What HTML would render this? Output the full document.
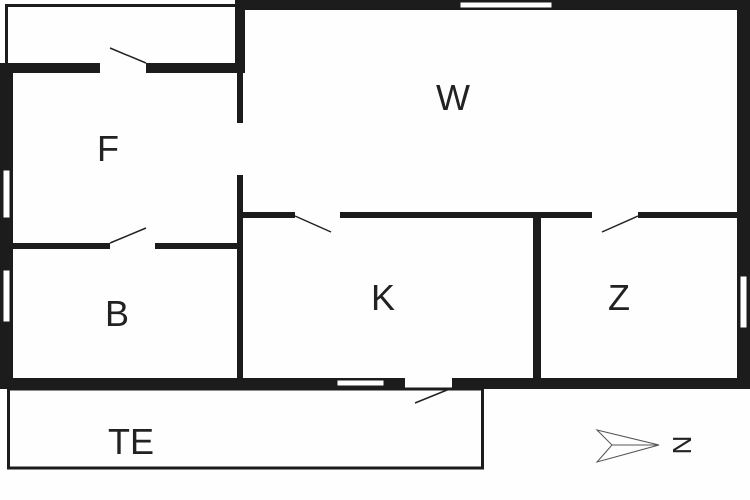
<!DOCTYPE html>
<html><head><style>
html,body{margin:0;padding:0;background:#fff;}
svg{display:block;}
text{font-family:"Liberation Sans",sans-serif;fill:#222;}
</style></head><body>
<svg width="750" height="500" viewBox="0 0 750 500" xmlns="http://www.w3.org/2000/svg">
<rect width="750" height="500" fill="#fefefe"/>
<g fill="#1c1c1c">
<!-- top annex thin -->
<rect x="5" y="4" width="232" height="3"/>
<rect x="5" y="4" width="3" height="62"/>
<!-- W top wall -->
<rect x="235" y="0" width="515" height="10"/>
<!-- right wall -->
<rect x="737" y="0" width="13" height="389"/>
<!-- bottom main wall -->
<rect x="0" y="378" width="750" height="11"/>
<!-- left wall -->
<rect x="0" y="63" width="13" height="326"/>
<!-- wall y63 -->
<rect x="0" y="63" width="245" height="10"/>
<!-- vertical 235 -->
<rect x="235" y="0" width="10" height="73"/>
<rect x="237" y="73" width="6" height="307"/>
<!-- W/K wall -->
<rect x="243" y="212" width="494" height="6"/>
<!-- K/Z vertical -->
<rect x="533" y="215" width="8" height="165"/>
<!-- F/B wall -->
<rect x="13" y="243" width="224" height="6"/>
</g>
<g fill="#fefefe">
<rect x="100" y="62" width="46" height="12"/>
<rect x="236" y="123" width="8" height="52"/>
<rect x="295" y="211" width="45" height="8"/>
<rect x="592" y="211" width="46" height="8"/>
<rect x="110" y="242" width="45" height="8"/>
<rect x="405" y="377" width="47" height="13"/>
</g>
<!-- windows -->
<g fill="#fff" stroke="#1c1c1c" stroke-width="1">
<rect x="460" y="2" width="92" height="6"/>
<rect x="3" y="170" width="7" height="48"/>
<rect x="3" y="270" width="7" height="52"/>
<rect x="740" y="276" width="7" height="52"/>
<rect x="337" y="380" width="47" height="6"/>
</g>
<!-- TE box -->
<rect x="8.5" y="389" width="474" height="79" fill="none" stroke="#1c1c1c" stroke-width="3"/>
<!-- door leaves -->
<g stroke="#222" stroke-width="1.5">
<line x1="110" y1="48" x2="146" y2="63"/>
<line x1="110" y1="243" x2="146" y2="228"/>
<line x1="295" y1="216" x2="331" y2="232"/>
<line x1="602" y1="232" x2="638" y2="216"/>
<line x1="415" y1="403" x2="452" y2="388"/>
</g>
<g font-size="36" text-anchor="middle">
<text x="453" y="110">W</text>
<text x="108" y="161">F</text>
<text x="117" y="326">B</text>
<text x="383" y="310">K</text>
<text x="619" y="310">Z</text>
<text x="131" y="454">TE</text>
</g>
<polygon points="597,430 659,445 597,462 612,445" fill="none" stroke="#555" stroke-width="1"/>
<line x1="612" y1="445" x2="659" y2="445" stroke="#555" stroke-width="1"/>
<text x="682" y="445" font-size="26" text-anchor="middle" dominant-baseline="central" transform="rotate(90 682 445)">N</text>
</svg>
</body></html>
